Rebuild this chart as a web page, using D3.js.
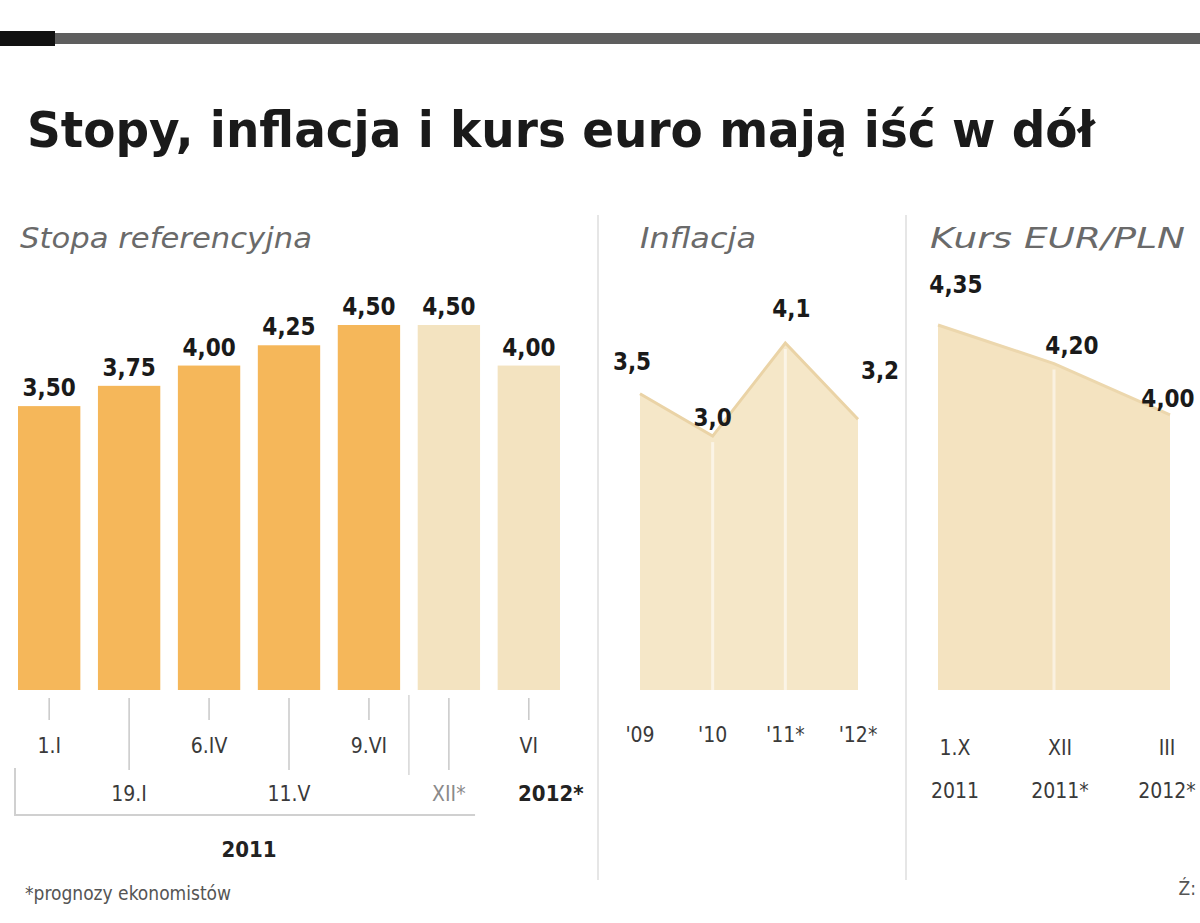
<!DOCTYPE html>
<html>
<head>
<meta charset="utf-8">
<script src="https://cdn.jsdelivr.net/npm/d3@7"></script>
<style>
  body { margin: 0; background: #fff; }
  svg { display: block; }
  text { font-family: "Liberation Sans Narrow", "DejaVu Sans Condensed", "Liberation Sans", sans-serif; }
</style>
</head>
<body>
<svg id="chart"></svg>
<script>
// data
const rateDates = ['1.I', '19.I', '6.IV', '11.V', '9.VI', 'XII*', 'VI'];
const rateValues = [3.50, 3.75, 4.00, 4.25, 4.50, 4.50, 4.00];
const rateForecast = [false, false, false, false, false, true, true];

const inflYears = ["'09", "'10", "'11*", "'12*"];
const inflValues = [3.5, 3.0, 4.1, 3.2];

const eurDates = ['1.X', 'XII', 'III'];
const eurYears = ['2011', '2011*', '2012*'];
const eurValues = [4.35, 4.20, 4.00];

const fmt2 = d => d.toFixed(2).replace('.', ',');
const fmt1 = d => d.toFixed(1).replace('.', ',');

const width = 1200, height = 923;
const base = 690; // common baseline of the three panels

const svg = d3.select('#chart')
    .attr('width', width)
    .attr('height', height);

// header bar
svg.append('rect').attr('x', 0).attr('y', 33).attr('width', width).attr('height', 11).attr('fill', '#5e5e5e');
svg.append('rect').attr('x', 0).attr('y', 31).attr('width', 55).attr('height', 15).attr('fill', '#111');

// title
svg.append('text')
    .attr('x', 27).attr('y', 147)
    .attr('font-size', 50).attr('font-weight', 'bold').attr('fill', '#1a1a1a')
    .attr('textLength', 1068).attr('lengthAdjust', 'spacingAndGlyphs')
    .text('Stopy, inflacja i kurs euro mają iść w dół');

// panel subtitles
const subtitle = (x, txt, len) => svg.append('text')
    .attr('x', x).attr('y', 248)
    .attr('font-size', 29).attr('font-style', 'italic').attr('fill', '#6a6a6a')
    .attr('textLength', len).attr('lengthAdjust', 'spacingAndGlyphs')
    .text(txt);
subtitle(20, 'Stopa referencyjna', 292);
subtitle(640, 'Inflacja', 116);
subtitle(930, 'Kurs EUR/PLN', 255);

// panel separators
[598, 906].forEach(x => {
    svg.append('line')
        .attr('x1', x).attr('x2', x).attr('y1', 215).attr('y2', 880)
        .attr('stroke', '#e6e6e6').attr('stroke-width', 2);
});

// ---------- reference rate bars ----------
const barX = d3.scaleBand()
    .domain(rateDates)
    .range([18, 560])
    .paddingInner(0.22)
    .paddingOuter(0);

const barY = d3.scaleLinear()
    .domain([0, 4.5])
    .range([base, 325]);

const rates = rateDates.map((d, i) => ({ date: d, value: rateValues[i], forecast: rateForecast[i], i }));

svg.append('g')
    .selectAll('rect')
    .data(rates)
    .join('rect')
    .attr('x', d => barX(d.date))
    .attr('width', barX.bandwidth())
    .attr('y', d => barY(d.value))
    .attr('height', d => base - barY(d.value))
    .attr('fill', d => d.forecast ? '#f3e3c0' : '#f5b75a');

svg.append('g')
    .selectAll('text')
    .data(rates)
    .join('text')
    .attr('x', d => barX(d.date) + barX.bandwidth() / 2)
    .attr('y', d => barY(d.value) - 10)
    .attr('text-anchor', 'middle')
    .attr('font-size', 24).attr('font-weight', 'bold').attr('fill', '#1a1a1a')
    .text(d => fmt2(d.value));

// ticks + date labels in two staggered rows
const cx = d => barX(d.date) + barX.bandwidth() / 2;
svg.append('g')
    .selectAll('line')
    .data(rates)
    .join('line')
    .attr('x1', cx).attr('x2', cx)
    .attr('y1', base + 8)
    .attr('y2', d => d.i % 2 === 0 ? base + 30 : base + 80)
    .attr('stroke', '#c8c8c8').attr('stroke-width', 1.5);

svg.append('g')
    .selectAll('text')
    .data(rates)
    .join('text')
    .attr('x', cx)
    .attr('y', d => d.i % 2 === 0 ? 753 : 801)
    .attr('text-anchor', 'middle')
    .attr('font-size', 21)
    .attr('fill', d => d.forecast && d.i % 2 === 1 ? '#8a8a8a' : '#3a3a3a')
    .text(d => d.date);

// forecast separator between last actual and first forecast bar
const sepX = (barX(rateDates[4]) + barX.bandwidth() + barX(rateDates[5])) / 2;
svg.append('line')
    .attr('x1', sepX).attr('x2', sepX).attr('y1', base + 5).attr('y2', 775)
    .attr('stroke', '#d6d6d6').attr('stroke-width', 1.5);

// year bracket
svg.append('path')
    .attr('d', `M15,768V815H${barX(rateDates[5]) + barX.bandwidth() - 5}`)
    .attr('fill', 'none').attr('stroke', '#d0d0d0').attr('stroke-width', 2);

svg.append('text')
    .attr('x', (barX(rateDates[0]) + barX(rateDates[5]) + barX.bandwidth()) / 2)
    .attr('y', 857)
    .attr('text-anchor', 'middle')
    .attr('font-size', 22).attr('font-weight', 'bold').attr('fill', '#222')
    .text('2011');

svg.append('text')
    .attr('x', cx(rates[6]))
    .attr('y', 801)
    .attr('dx', 22)
    .attr('text-anchor', 'middle')
    .attr('font-size', 22).attr('font-weight', 'bold').attr('fill', '#222')
    .text('2012*');

// ---------- inflation area ----------
const inflX = d3.scalePoint().domain(inflYears).range([640, 858]);
const inflY = d3.scaleLinear().domain([0, 4.1]).range([base, 343]);
const infl = inflYears.map((d, i) => ({ year: d, value: inflValues[i] }));

svg.append('path')
    .datum(infl)
    .attr('fill', '#f5e7c8')
    .attr('d', d3.area().x(d => inflX(d.year)).y0(base).y1(d => inflY(d.value)));

svg.append('g')
    .selectAll('line')
    .data(infl.slice(1, -1))
    .join('line')
    .attr('x1', d => inflX(d.year)).attr('x2', d => inflX(d.year))
    .attr('y1', d => inflY(d.value) + 6).attr('y2', base)
    .attr('stroke', '#fbf4e6').attr('stroke-width', 3);

svg.append('path')
    .datum(infl)
    .attr('fill', 'none').attr('stroke', '#ead3a6').attr('stroke-width', 3)
    .attr('d', d3.line().x(d => inflX(d.year)).y(d => inflY(d.value)));

const inflDx = [-8, 0, 6, 22];
const inflDy = [-24, -10, -26, -40];
svg.append('g')
    .selectAll('text')
    .data(infl)
    .join('text')
    .attr('x', (d, i) => inflX(d.year) + inflDx[i])
    .attr('y', (d, i) => inflY(d.value) + inflDy[i])
    .attr('text-anchor', 'middle')
    .attr('font-size', 24).attr('font-weight', 'bold').attr('fill', '#1a1a1a')
    .text(d => fmt1(d.value));

svg.append('g')
    .selectAll('text')
    .data(infl)
    .join('text')
    .attr('x', d => inflX(d.year))
    .attr('y', 742)
    .attr('text-anchor', 'middle')
    .attr('font-size', 21).attr('fill', '#3a3a3a')
    .text(d => d.year);

// ---------- EUR/PLN area ----------
const eurX = d3.scalePoint().domain(eurDates).range([938, 1170]);
const eurY = d3.scaleLinear().domain([2.93, 4.35]).range([base, 325]);
const eur = eurDates.map((d, i) => ({ date: d, year: eurYears[i], value: eurValues[i] }));

svg.append('path')
    .datum(eur)
    .attr('fill', '#f4e3c0')
    .attr('d', d3.area().x(d => eurX(d.date)).y0(base).y1(d => eurY(d.value)));

svg.append('g')
    .selectAll('line')
    .data(eur.slice(1, -1))
    .join('line')
    .attr('x1', d => eurX(d.date)).attr('x2', d => eurX(d.date))
    .attr('y1', d => eurY(d.value) + 6).attr('y2', base)
    .attr('stroke', '#faf1e0').attr('stroke-width', 3);

svg.append('path')
    .datum(eur)
    .attr('fill', 'none').attr('stroke', '#ecd7ad').attr('stroke-width', 3)
    .attr('d', d3.line().x(d => eurX(d.date)).y(d => eurY(d.value)));

// the picture crops at the right edge, so the last labels are pulled inside
const eurDx = [18, 18, -2];
const eurDy = [-32, -10, -8];
svg.append('g')
    .selectAll('text')
    .data(eur)
    .join('text')
    .attr('x', (d, i) => eurX(d.date) + eurDx[i])
    .attr('y', (d, i) => eurY(d.value) + eurDy[i])
    .attr('text-anchor', 'middle')
    .attr('font-size', 24).attr('font-weight', 'bold').attr('fill', '#1a1a1a')
    .text(d => fmt2(d.value));

const eurLx = [17, 6, -3];
svg.append('g')
    .selectAll('text')
    .data(eur)
    .join('text')
    .attr('x', (d, i) => eurX(d.date) + eurLx[i])
    .attr('y', 755)
    .attr('text-anchor', 'middle')
    .attr('font-size', 21).attr('fill', '#3a3a3a')
    .text(d => d.date);

svg.append('g')
    .selectAll('text')
    .data(eur)
    .join('text')
    .attr('x', (d, i) => eurX(d.date) + eurLx[i])
    .attr('y', 798)
    .attr('text-anchor', 'middle')
    .attr('font-size', 21).attr('fill', '#3a3a3a')
    .text(d => d.year);

// footnote and source mark
svg.append('text')
    .attr('x', 25).attr('y', 900)
    .attr('font-size', 19).attr('fill', '#555')
    .text('*prognozy ekonomistów');

svg.append('text')
    .attr('x', 1196).attr('y', 895)
    .attr('text-anchor', 'end')
    .attr('font-size', 19).attr('fill', '#555')
    .text('Ź:');
</script>
</body>
</html>
